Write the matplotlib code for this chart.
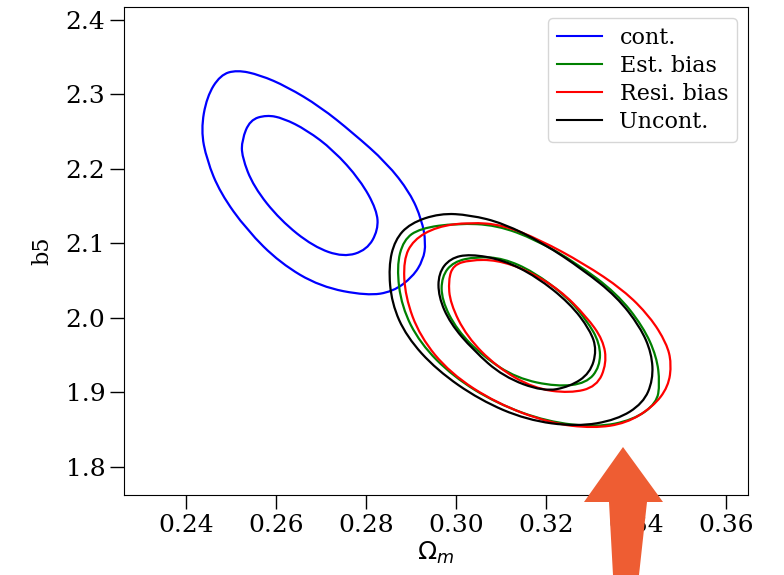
import numpy as np
import matplotlib
matplotlib.use("Agg")
import matplotlib.pyplot as plt
from matplotlib.path import Path
from matplotlib.patches import PathPatch, Polygon
from matplotlib.lines import Line2D

# contour points (Omega_m, b5), inner = 68%, outer = 95%
cont_outer_x = [0.2513, 0.2476, 0.2446, 0.2433, 0.2446, 0.2476, 0.2535, 0.2609, 0.2698, 0.2802, 0.2860,
                0.2904, 0.2927, 0.2933, 0.2924, 0.2898, 0.2846, 0.2771, 0.2698, 0.2624, 0.2564]
cont_outer_y = [2.3329, 2.3262, 2.2970, 2.2523, 2.2121, 2.1678, 2.1181, 2.0738, 2.0420, 2.0299, 2.0353,
                2.0554, 2.0779, 2.1007, 2.1315, 2.1678, 2.2081, 2.2483, 2.2836, 2.3105, 2.3262]
cont_inner_x = [0.2579, 0.2542, 0.2524, 0.2524, 0.2550, 0.2609, 0.2683, 0.2750, 0.2802, 0.2827, 0.2824,
                0.2787, 0.2727, 0.2668, 0.2616]
cont_inner_y = [2.2725, 2.2658, 2.2389, 2.2165, 2.1762, 2.1315, 2.0957, 2.0815, 2.0913, 2.1181, 2.1450,
                2.1852, 2.2255, 2.2523, 2.2681]

est_outer_x = [0.3002, 0.2920, 0.2883, 0.2868, 0.2879, 0.2920, 0.2994, 0.3090, 0.3202, 0.3313, 0.3394,
               0.3446, 0.3453, 0.3446, 0.3416, 0.3357, 0.3268, 0.3179, 0.3090]
est_outer_y = [2.1271, 2.1204, 2.1047, 2.0689, 2.0152, 1.9660, 1.9212, 1.8855, 1.8608, 1.8533, 1.8631,
               1.8855, 1.9123, 1.9480, 1.9883, 2.0332, 2.0734, 2.1047, 2.1248]
est_inner_x = [0.3046, 0.2994, 0.2968, 0.2968, 0.3002, 0.3061, 0.3135, 0.3224, 0.3290, 0.3320, 0.3320,
               0.3290, 0.3246, 0.3172, 0.3105]
est_inner_y = [2.0823, 2.0756, 2.0554, 2.0242, 1.9839, 1.9480, 1.9191, 1.9078, 1.9123, 1.9346, 1.9660,
               1.9973, 2.0286, 2.0622, 2.0801]

resi_outer_x = [0.3031, 0.2957, 0.2905, 0.2883, 0.2887, 0.2920, 0.2987, 0.3090, 0.3209, 0.3305, 0.3379,
                0.3438, 0.3472, 0.3479, 0.3468, 0.3431, 0.3372, 0.3283, 0.3187, 0.3105]
resi_outer_y = [2.1285, 2.1226, 2.1047, 2.0779, 2.0286, 1.9749, 1.9258, 1.8855, 1.8587, 1.8520, 1.8587,
                1.8810, 1.9078, 1.9392, 1.9660, 2.0018, 2.0376, 2.0734, 2.1047, 2.1248]
resi_inner_x = [0.3031, 0.2994, 0.2983, 0.2987, 0.3024, 0.3090, 0.3172, 0.3253, 0.3313, 0.3335, 0.3327,
                0.3290, 0.3231, 0.3157, 0.3090]
resi_inner_y = [2.0779, 2.0711, 2.0510, 2.0197, 1.9749, 1.9346, 1.9056, 1.8989, 1.9078, 1.9392, 1.9705,
                2.0018, 2.0376, 2.0644, 2.0779]

uncont_outer_x = [0.2964, 0.2898, 0.2864, 0.2850, 0.2857, 0.2890, 0.2957, 0.3053, 0.3157, 0.3268, 0.3357,
                  0.3416, 0.3438, 0.3435, 0.3409, 0.3357, 0.3283, 0.3194, 0.3105, 0.3031]
uncont_outer_y = [2.1405, 2.1271, 2.1047, 2.0689, 2.0197, 1.9749, 1.9302, 1.8899, 1.8631, 1.8541, 1.8631,
                  1.8855, 1.9168, 1.9526, 1.9883, 2.0286, 2.0644, 2.1003, 2.1271, 2.1383]
uncont_inner_x = [0.3031, 0.2987, 0.2961, 0.2961, 0.2987, 0.3038, 0.3105, 0.3194, 0.3253, 0.3298, 0.3313,
                  0.3298, 0.3253, 0.3179, 0.3105]
uncont_inner_y = [2.0859, 2.0801, 2.0600, 2.0286, 1.9929, 1.9570, 1.9212, 1.9011, 1.9078, 1.9258, 1.9570,
                  1.9839, 2.0197, 2.0554, 2.0779]

labels = ["cont.", "Est. bias", "Resi. bias", "Uncont."]
colors = ["blue", "green", "red", "black"]
xticks = [0.24, 0.26, 0.28, 0.30, 0.32, 0.34, 0.36]
yticks = [1.8, 1.9, 2.0, 2.1, 2.2, 2.3, 2.4]


def closedCurve(xs, ys):
    """ smooth closed path, the read points are used as quadratic control points """
    pts = np.column_stack([xs, ys])
    n = len(pts)
    mids = (pts + np.roll(pts, -1, axis=0)) / 2
    verts = [mids[-1]]
    codes = [Path.MOVETO]
    for i in range(n):
        verts += [pts[i], mids[i]]
        codes += [Path.CURVE3, Path.CURVE3]
    return Path(verts, codes)


plt.rcParams['font.family'] = ['DejaVu Serif']

W, H = 784, 575
fig = plt.figure(figsize=(W / 100, H / 100), dpi=100)
ax = fig.add_axes([124 / W, 1 - 495 / H, 624 / W, 488 / H])

contours = [
    [(cont_outer_x, cont_outer_y), (cont_inner_x, cont_inner_y)],
    [(est_outer_x, est_outer_y), (est_inner_x, est_inner_y)],
    [(resi_outer_x, resi_outer_y), (resi_inner_x, resi_inner_y)],
    [(uncont_outer_x, uncont_outer_y), (uncont_inner_x, uncont_inner_y)],
]
for curves, c in zip(contours, colors):
    for xs, ys in curves:
        ax.add_patch(PathPatch(closedCurve(xs, ys), facecolor='none', edgecolor=c, lw=1.6))

ax.set_xlim(0.2262, 0.3649)
ax.set_ylim(1.7624, 2.4174)
ax.set_xticks(xticks)
ax.set_yticks(yticks)
ax.set_xticklabels([f"{t:.2f}" for t in xticks])
ax.set_yticklabels([f"{t:.1f}" for t in yticks])
ax.tick_params(labelsize=18, length=10, width=1)
ax.set_xlabel(r"$\Omega_m$", fontsize=18, labelpad=2)
ax.set_ylabel("b5", fontsize=16, labelpad=9)

handles = [Line2D([], [], color=c, lw=1.5) for c in colors]
ax.legend(handles, labels, loc="upper right", fontsize=16, labelspacing=0.27)

# orange arrow drawn on top of the figure
arrow_px = [(623, 447), (663, 502), (647, 502), (639, 575), (613, 575), (609, 502), (584, 502)]
arrow = Polygon([(x / W, 1 - y / H) for x, y in arrow_px], closed=True,
                transform=fig.transFigure, facecolor='#EE5D33', edgecolor='none', zorder=10)
fig.patches.append(arrow)

fig.savefig("out.png", dpi=100)
